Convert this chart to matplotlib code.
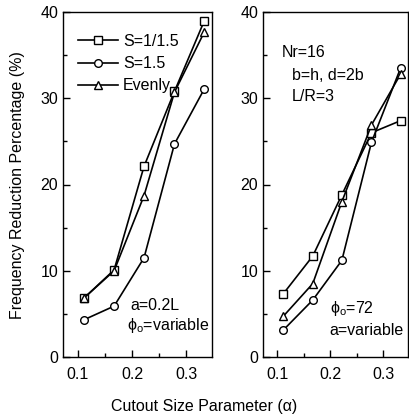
import matplotlib
matplotlib.use("Agg")
import matplotlib.pyplot as plt
from matplotlib.ticker import MultipleLocator

alpha = [0.111, 0.167, 0.222, 0.278, 0.333]

# left panel: a=0.2L, phi_o variable
left_s_small = [6.8, 10.1, 22.1, 30.8, 39.0]
left_s_large = [4.3, 5.9, 11.5, 24.7, 31.1]
left_evenly = [6.8, 10.0, 18.7, 30.7, 37.7]

# right panel: phi_o=72, a variable
right_s_small = [7.3, 11.7, 18.8, 26.0, 27.4]
right_s_large = [3.1, 6.6, 11.2, 24.9, 33.5]
right_evenly = [4.7, 8.5, 18.0, 26.9, 32.8]

labels = ["S=1/1.5", "S=1.5", "Evenly"]
markers = ["s", "o", "^"]

plt.rcParams['font.family'] = ['Liberation Sans', 'DejaVu Sans']
plt.rcParams['mathtext.fontset'] = 'custom'
plt.rcParams['mathtext.rm'] = 'Liberation Sans'
plt.rcParams['mathtext.it'] = 'Liberation Sans'

FS = 11.5

fig = plt.figure(figsize=(4.09, 4.20), dpi=100)
ax1 = fig.add_axes([63/409, 1 - 357/420, 149/409, 345/420])
ax2 = fig.add_axes([263/409, 1 - 357/420, 145/409, 345/420])


def draw(ax, series):
    for vals, m, lab in zip(series, markers, labels):
        ax.plot(alpha, vals, color='black', lw=1.2, marker=m, ms=5.5,
                mfc='white', mec='black', mew=1.0, label=lab)
    ax.set_xlim(0.073, 0.347)
    ax.set_ylim(0, 40)
    ax.xaxis.set_major_locator(MultipleLocator(0.1))
    ax.xaxis.set_minor_locator(MultipleLocator(0.05))
    ax.yaxis.set_major_locator(MultipleLocator(10))
    ax.yaxis.set_minor_locator(MultipleLocator(5))
    ax.tick_params(which='both', direction='in', labelsize=FS, width=1)
    ax.tick_params(which='major', length=5)
    ax.tick_params(which='minor', length=3)
    ax.tick_params(axis='x', pad=7)
    for sp in ax.spines.values():
        sp.set_linewidth(1.0)
    ax.set_xticks([0.1, 0.2, 0.3])
    ax.set_xticklabels(["0.1", "0.2", "0.3"])


draw(ax1, [left_s_small, left_s_large, left_evenly])
draw(ax2, [right_s_small, right_s_large, right_evenly])

ax1.legend(loc='upper left', bbox_to_anchor=(0.06, 0.955), frameon=False,
           handlelength=2.5, handletextpad=0.3, labelspacing=0.45,
           fontsize=FS, borderaxespad=0)

ax1.text(0.45, 0.15, "a=0.2L", transform=ax1.transAxes, fontsize=FS, va='center')
ax1.text(0.43, 0.09, r"$\mathrm{\phi}_{\mathrm{o}}$=variable", transform=ax1.transAxes,
         fontsize=FS, va='center')

ax2.text(0.13, 0.884, "Nr=16", transform=ax2.transAxes, fontsize=FS, va='center')
ax2.text(0.2, 0.817, "b=h, d=2b", transform=ax2.transAxes, fontsize=FS, va='center')
ax2.text(0.2, 0.754, "L/R=3", transform=ax2.transAxes, fontsize=FS, va='center')
ax2.text(0.46, 0.142, r"$\mathrm{\phi}_{\mathrm{o}}$=72", transform=ax2.transAxes,
         fontsize=FS, va='center')
ax2.text(0.46, 0.078, "a=variable", transform=ax2.transAxes, fontsize=FS, va='center')

fig.text(18/409, 1 - 185/420, "Frequency Reduction Percentage (%)", rotation=90,
         ha='center', va='center', fontsize=FS)
fig.text(0.5, 1 - 406/420, "Cutout Size Parameter (α)", ha='center',
         va='center', fontsize=FS)

fig.savefig("out.png", dpi=100)
